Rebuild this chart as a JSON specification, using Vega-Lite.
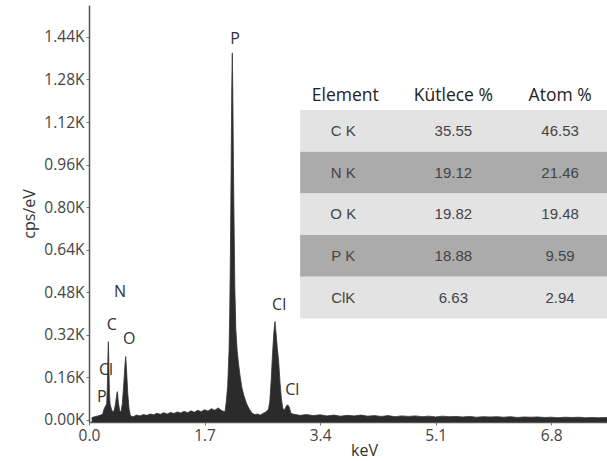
{
  "$schema": "https://vega.github.io/schema/vega-lite/v6.json",
  "width": 518,
  "height": 417,
  "autosize": "none",
  "padding": {"left": 89, "top": 5, "right": 0, "bottom": 39},
  "background": "white",
  "config": {
    "view": {"stroke": null},
    "font": "Open Sans"
  },
  "layer": [
    {
      "layer": [
        {
          "data": {"values": [
            {"keV": 0.04, "cps": 0.008}, {"keV": 0.08, "cps": 0.012}, {"keV": 0.12, "cps": 0.014}, {"keV": 0.16, "cps": 0.017},
            {"keV": 0.2, "cps": 0.021}, {"keV": 0.22, "cps": 0.04}, {"keV": 0.24, "cps": 0.05}, {"keV": 0.26, "cps": 0.06},
            {"keV": 0.27, "cps": 0.12}, {"keV": 0.28, "cps": 0.26}, {"keV": 0.285, "cps": 0.294}, {"keV": 0.29, "cps": 0.24},
            {"keV": 0.3, "cps": 0.1}, {"keV": 0.31, "cps": 0.06}, {"keV": 0.33, "cps": 0.04}, {"keV": 0.35, "cps": 0.03},
            {"keV": 0.37, "cps": 0.035}, {"keV": 0.39, "cps": 0.06}, {"keV": 0.41, "cps": 0.1}, {"keV": 0.418, "cps": 0.106},
            {"keV": 0.43, "cps": 0.07}, {"keV": 0.45, "cps": 0.035}, {"keV": 0.47, "cps": 0.03}, {"keV": 0.49, "cps": 0.06},
            {"keV": 0.51, "cps": 0.13}, {"keV": 0.53, "cps": 0.21}, {"keV": 0.54, "cps": 0.238}, {"keV": 0.55, "cps": 0.2},
            {"keV": 0.57, "cps": 0.1}, {"keV": 0.59, "cps": 0.04}, {"keV": 0.61, "cps": 0.015}, {"keV": 0.65, "cps": 0.012},
            {"keV": 0.7, "cps": 0.018}, {"keV": 0.75, "cps": 0.015}, {"keV": 0.8, "cps": 0.02}, {"keV": 0.85, "cps": 0.017},
            {"keV": 0.9, "cps": 0.022}, {"keV": 0.95, "cps": 0.019}, {"keV": 1.0, "cps": 0.025}, {"keV": 1.05, "cps": 0.021},
            {"keV": 1.1, "cps": 0.027}, {"keV": 1.15, "cps": 0.022}, {"keV": 1.2, "cps": 0.028}, {"keV": 1.25, "cps": 0.024},
            {"keV": 1.3, "cps": 0.03}, {"keV": 1.35, "cps": 0.026}, {"keV": 1.4, "cps": 0.032}, {"keV": 1.45, "cps": 0.027},
            {"keV": 1.5, "cps": 0.034}, {"keV": 1.55, "cps": 0.029}, {"keV": 1.6, "cps": 0.036}, {"keV": 1.65, "cps": 0.031},
            {"keV": 1.7, "cps": 0.038}, {"keV": 1.75, "cps": 0.033}, {"keV": 1.8, "cps": 0.042}, {"keV": 1.85, "cps": 0.036},
            {"keV": 1.9, "cps": 0.045}, {"keV": 1.95, "cps": 0.035}, {"keV": 2.0, "cps": 0.03}, {"keV": 2.02, "cps": 0.07},
            {"keV": 2.04, "cps": 0.13}, {"keV": 2.06, "cps": 0.26}, {"keV": 2.07, "cps": 0.4}, {"keV": 2.08, "cps": 0.62},
            {"keV": 2.09, "cps": 0.92}, {"keV": 2.1, "cps": 1.25}, {"keV": 2.108, "cps": 1.38}, {"keV": 2.115, "cps": 1.25},
            {"keV": 2.125, "cps": 0.95}, {"keV": 2.135, "cps": 0.72}, {"keV": 2.145, "cps": 0.5}, {"keV": 2.16, "cps": 0.34},
            {"keV": 2.18, "cps": 0.26}, {"keV": 2.2, "cps": 0.21}, {"keV": 2.22, "cps": 0.17}, {"keV": 2.25, "cps": 0.12},
            {"keV": 2.28, "cps": 0.09}, {"keV": 2.32, "cps": 0.06}, {"keV": 2.36, "cps": 0.04}, {"keV": 2.4, "cps": 0.025},
            {"keV": 2.44, "cps": 0.02}, {"keV": 2.48, "cps": 0.022}, {"keV": 2.52, "cps": 0.018}, {"keV": 2.56, "cps": 0.024},
            {"keV": 2.6, "cps": 0.03}, {"keV": 2.64, "cps": 0.04}, {"keV": 2.66, "cps": 0.07}, {"keV": 2.68, "cps": 0.15},
            {"keV": 2.7, "cps": 0.25}, {"keV": 2.72, "cps": 0.33}, {"keV": 2.735, "cps": 0.37}, {"keV": 2.75, "cps": 0.33},
            {"keV": 2.77, "cps": 0.27}, {"keV": 2.79, "cps": 0.22}, {"keV": 2.81, "cps": 0.14}, {"keV": 2.83, "cps": 0.08},
            {"keV": 2.85, "cps": 0.045}, {"keV": 2.87, "cps": 0.035}, {"keV": 2.89, "cps": 0.045}, {"keV": 2.91, "cps": 0.055},
            {"keV": 2.93, "cps": 0.055}, {"keV": 2.95, "cps": 0.045}, {"keV": 2.97, "cps": 0.025}, {"keV": 3.0, "cps": 0.022},
            {"keV": 3.1, "cps": 0.017}, {"keV": 3.2, "cps": 0.02}, {"keV": 3.3, "cps": 0.016}, {"keV": 3.4, "cps": 0.019},
            {"keV": 3.5, "cps": 0.015}, {"keV": 3.6, "cps": 0.018}, {"keV": 3.7, "cps": 0.014}, {"keV": 3.8, "cps": 0.017},
            {"keV": 3.9, "cps": 0.015}, {"keV": 4.0, "cps": 0.018}, {"keV": 4.1, "cps": 0.014}, {"keV": 4.2, "cps": 0.016},
            {"keV": 4.3, "cps": 0.013}, {"keV": 4.4, "cps": 0.016}, {"keV": 4.5, "cps": 0.012}, {"keV": 4.6, "cps": 0.015},
            {"keV": 4.7, "cps": 0.013}, {"keV": 4.8, "cps": 0.015}, {"keV": 4.9, "cps": 0.012}, {"keV": 5.0, "cps": 0.014},
            {"keV": 5.1, "cps": 0.011}, {"keV": 5.2, "cps": 0.014}, {"keV": 5.3, "cps": 0.012}, {"keV": 5.4, "cps": 0.013},
            {"keV": 5.5, "cps": 0.011}, {"keV": 5.6, "cps": 0.013}, {"keV": 5.7, "cps": 0.01}, {"keV": 5.8, "cps": 0.012},
            {"keV": 5.9, "cps": 0.011}, {"keV": 6.0, "cps": 0.012}, {"keV": 6.1, "cps": 0.01}, {"keV": 6.2, "cps": 0.012},
            {"keV": 6.3, "cps": 0.009}, {"keV": 6.4, "cps": 0.011}, {"keV": 6.5, "cps": 0.01}, {"keV": 6.6, "cps": 0.011},
            {"keV": 6.7, "cps": 0.009}, {"keV": 6.8, "cps": 0.01}, {"keV": 6.9, "cps": 0.008}, {"keV": 7.0, "cps": 0.01},
            {"keV": 7.1, "cps": 0.009}, {"keV": 7.2, "cps": 0.01}, {"keV": 7.3, "cps": 0.008}, {"keV": 7.4, "cps": 0.009},
            {"keV": 7.5, "cps": 0.008}, {"keV": 7.62, "cps": 0.009}
          ]},
          "mark": {"type": "area", "color": "#2b2b2b", "opacity": 1, "line": {"color": "#333333", "strokeWidth": 0.8}},
          "encoding": {
            "x": {
              "field": "keV", "type": "quantitative",
              "scale": {"domain": [0, 7.62], "nice": false, "zero": false},
              "axis": {
                "values": [0, 1.7, 3.4, 5.1, 6.8], "format": ".1f", "title": "keV", "labelFlush": false,
                "grid": false, "domainColor": "#555555", "domainWidth": 1.5,
                "tickColor": "#777777", "tickSize": 3, "labelFont": "Open Sans", "labelFontSize": 15.5,
                "labelColor": "#444444", "labelPadding": 3, "titleFont": "Open Sans", "titleFontSize": 16,
                "titleFontWeight": "normal", "titleColor": "#333333", "titlePadding": -1, "titleX": 275
              }
            },
            "y": {
              "field": "cps", "type": "quantitative",
              "scale": {"domain": [-0.008, 1.56], "nice": false, "zero": false},
              "axis": {
                "values": [0, 0.16, 0.32, 0.48, 0.64, 0.8, 0.96, 1.12, 1.28, 1.44],
                "labelExpr": "format(datum.value, '.2f') + 'K'", "title": "cps/eV",
                "grid": false, "domainColor": "#555555", "domainWidth": 1.5,
                "tickColor": "#777777", "tickSize": 3, "labelFont": "Open Sans", "labelFontSize": 15.5,
                "labelColor": "#444444", "labelPadding": 2, "titleFont": "Open Sans", "titleFontSize": 16,
                "titleFontWeight": "normal", "titleColor": "#333333", "titlePadding": 6
              }
            },
            "y2": {"datum": -0.008}
          }
        },
        {
          "data": {"values": [
            {"label": "P", "keV": 2.15, "cps": 1.431},
            {"label": "N", "keV": 0.456, "cps": 0.479},
            {"label": "C", "keV": 0.334, "cps": 0.357},
            {"label": "O", "keV": 0.593, "cps": 0.303},
            {"label": "Cl", "keV": 0.25, "cps": 0.188},
            {"label": "P", "keV": 0.187, "cps": 0.085},
            {"label": "Cl", "keV": 2.797, "cps": 0.432},
            {"label": "Cl", "keV": 2.99, "cps": 0.113}
          ]},
          "mark": {"type": "text", "font": "Open Sans", "fontSize": 16, "color": "#333333", "align": "center", "baseline": "middle"},
          "encoding": {
            "x": {"field": "keV", "type": "quantitative"},
            "y": {"field": "cps", "type": "quantitative"},
            "text": {"field": "label"}
          }
        }
      ]
    },
    {
      "data": {"values": [
        {"element": "C K", "mass": 35.55, "atom": 46.53},
        {"element": "N K", "mass": 19.12, "atom": 21.46},
        {"element": "O K", "mass": 19.82, "atom": 19.48},
        {"element": "P K", "mass": 18.88, "atom": 9.59},
        {"element": "ClK", "mass": 6.63, "atom": 2.94}
      ]},
      "layer": [
        {
          "mark": {"type": "rect"},
          "encoding": {
            "x": {"datum": 3.106},
            "x2": {"datum": 7.62},
            "y": {
              "field": "element", "type": "nominal",
              "scale": {"domain": ["hdr", "C K", "N K", "O K", "P K", "ClK"], "paddingInner": 0, "paddingOuter": 0, "range": [63.4, 313.4]},
              "axis": null
            },
            "color": {
              "field": "element", "type": "nominal",
              "scale": {"domain": ["C K", "N K", "O K", "P K", "ClK"], "range": ["#e3e3e3", "#ababab", "#e3e3e3", "#ababab", "#e3e3e3"]},
              "legend": null
            }
          }
        },
        {
          "mark": {"type": "text", "font": "Liberation Sans", "fontSize": 15, "color": "#444444"},
          "encoding": {
            "x": {"datum": 3.74},
            "y": {"field": "element", "type": "nominal"},
            "text": {"field": "element"}
          }
        },
        {
          "mark": {"type": "text", "font": "Liberation Sans", "fontSize": 15, "color": "#444444"},
          "encoding": {
            "x": {"datum": 5.36},
            "y": {"field": "element", "type": "nominal"},
            "text": {"field": "mass", "format": ".2f"}
          }
        },
        {
          "mark": {"type": "text", "font": "Liberation Sans", "fontSize": 15, "color": "#444444"},
          "encoding": {
            "x": {"datum": 6.93},
            "y": {"field": "element", "type": "nominal"},
            "text": {"field": "atom", "format": ".2f"}
          }
        },
        {
          "data": {"values": [{"head": "Element"}]},
          "mark": {"type": "text", "font": "Open Sans", "fontSize": 17.5, "color": "#222222", "yOffset": 7},
          "encoding": {
            "x": {"datum": 3.77},
            "y": {"datum": "hdr", "type": "nominal"},
            "text": {"field": "head"}
          }
        },
        {
          "data": {"values": [{"head": "Kütlece %"}]},
          "mark": {"type": "text", "font": "Open Sans", "fontSize": 17.5, "color": "#222222", "yOffset": 7},
          "encoding": {
            "x": {"datum": 5.36},
            "y": {"datum": "hdr", "type": "nominal"},
            "text": {"field": "head"}
          }
        },
        {
          "data": {"values": [{"head": "Atom %"}]},
          "mark": {"type": "text", "font": "Open Sans", "fontSize": 17.5, "color": "#222222", "yOffset": 7},
          "encoding": {
            "x": {"datum": 6.93},
            "y": {"datum": "hdr", "type": "nominal"},
            "text": {"field": "head"}
          }
        }
      ]
    }
  ],
  "resolve": {"scale": {"y": "independent", "color": "independent"}}
}
